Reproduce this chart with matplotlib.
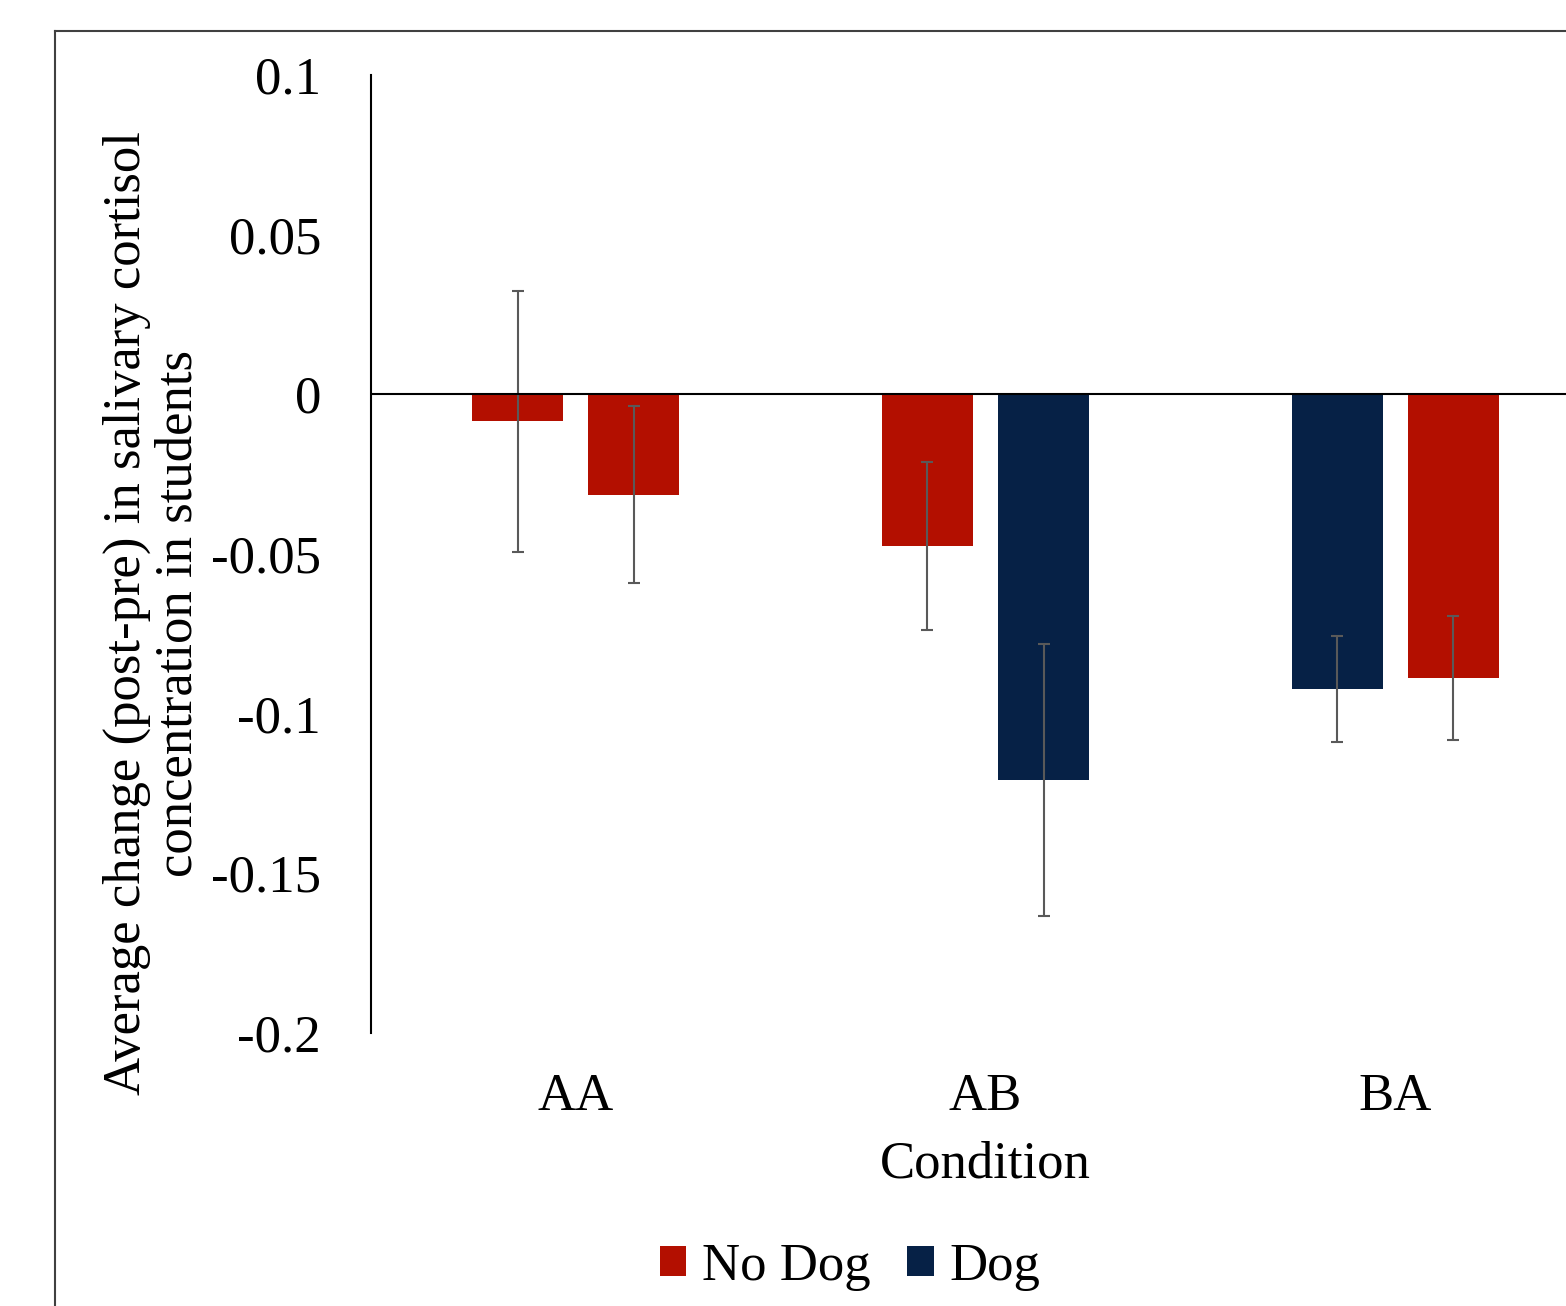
import matplotlib.pyplot as plt
from matplotlib.lines import Line2D
from matplotlib.patches import Patch

# data
conditions = ["AA", "AB", "BA"]
first_labels = ["No Dog", "No Dog", "Dog"]
first_values = [-0.0085, -0.0475, -0.0922]
first_errors = [0.0408, 0.0262, 0.0166]
second_labels = ["No Dog", "Dog", "No Dog"]
second_values = [-0.0314, -0.1207, -0.0888]
second_errors = [0.0278, 0.0426, 0.0194]
y_ticks = [0.1, 0.05, 0, -0.05, -0.1, -0.15, -0.2]
y_tick_labels = ["0.1", "0.05", "0", "-0.05", "-0.1", "-0.15", "-0.2"]

colors = {"No Dog": "#B30F00", "Dog": "#062146"}
err_color = "#595959"

plt.rcParams["font.family"] = ["Liberation Serif", "DejaVu Serif"]
plt.rcParams["font.size"] = 38

W, H = 1566, 1306
fig = plt.figure(figsize=(W / 100, H / 100), dpi=100)
ax = fig.add_axes([371 / W, 1 - 1033 / H, (1600 - 371) / W, (1033 - 75) / H])

x = list(range(len(conditions)))
width = 0.222
offset = 0.1416
x1 = [i - offset for i in x]
x2 = [i + offset for i in x]

ax.bar(x1, first_values, width, color=[colors[l] for l in first_labels], zorder=2)
ax.bar(x2, second_values, width, color=[colors[l] for l in second_labels], zorder=2)
ax.errorbar(x1, first_values, yerr=first_errors, fmt="none", ecolor=err_color,
            elinewidth=1.5, capsize=4.3, capthick=1.5, zorder=3)
ax.errorbar(x2, second_values, yerr=second_errors, fmt="none", ecolor=err_color,
            elinewidth=1.5, capsize=4.3, capthick=1.5, zorder=3)
ax.axhline(0, color="black", lw=1.5, zorder=4)

ax.set_xlim(-0.5, 2.5)
ax.set_ylim(-0.2, 0.1)
ax.set_yticks(y_ticks)
ax.set_yticklabels(y_tick_labels, va="center_baseline")
ax.set_xticks(x)
ax.set_xticklabels(conditions)
ax.tick_params(axis="y", length=0, pad=36)
ax.tick_params(axis="x", length=0, pad=29)

for side in ["top", "right", "bottom"]:
    ax.spines[side].set_visible(False)
ax.spines["left"].set_linewidth(1.5)
ax.spines["left"].set_color("black")

ax.set_xlabel("Condition", labelpad=14)
fig.text(153 / W, 1 - 613 / H,
         "Average change (post-pre) in salivary cortisol\nconcentration in students",
         rotation=90, ha="center", va="center", linespacing=1.1)

handles = [Patch(facecolor=colors["No Dog"], label="No Dog"),
           Patch(facecolor=colors["Dog"], label="Dog")]
fig.legend(handles=handles, loc="center", bbox_to_anchor=(850 / W, 1 - 1267 / H),
           ncol=2, frameon=False, handlelength=0.5, handleheight=0.5,
           handletextpad=0.3, columnspacing=0.7, borderpad=0, borderaxespad=0)

# chart-area border (cut off on the right and bottom)
fig.add_artist(Line2D([55 / W, 55 / W], [1 - 31 / H, -0.01], color="#404040",
                      lw=1.5, transform=fig.transFigure))
fig.add_artist(Line2D([55 / W, 1.01], [1 - 31 / H, 1 - 31 / H], color="#404040",
                      lw=1.5, transform=fig.transFigure))

fig.savefig("out.png", dpi=100)
